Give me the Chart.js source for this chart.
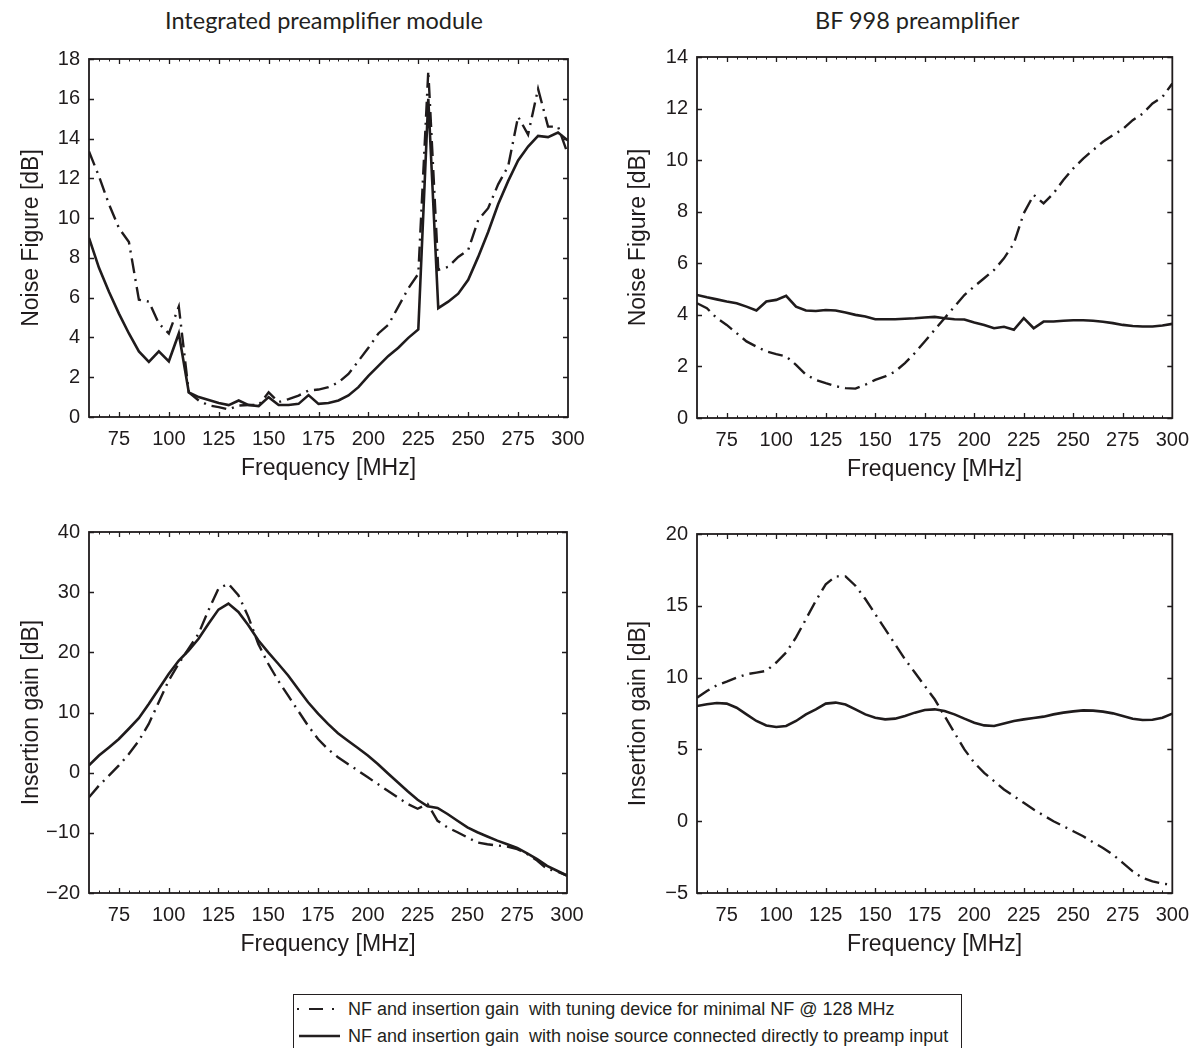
<!DOCTYPE html>
<html><head><meta charset="utf-8">
<script src="https://cdn.jsdelivr.net/npm/chart.js@4.4.1/dist/chart.umd.min.js"></script>
<style>
html,body{margin:0;padding:0;background:#fff;}
body{width:1199px;height:1048px;position:relative;overflow:hidden;font-family:"Liberation Sans",Arial,sans-serif;color:#231f20;}
.wrap{position:absolute;}
.ttl{position:absolute;font-family:Lato,"Open Sans",sans-serif;font-size:23.5px;line-height:23.5px;white-space:nowrap;color:#231f20;}
#legend{position:absolute;left:293px;top:994px;width:669px;height:64px;border:1.5px solid #231f20;box-sizing:border-box;background:#fff;}
.row{position:absolute;left:0;height:22px;font-size:18px;line-height:22px;white-space:pre;}
.row svg{position:absolute;left:0;top:1px;}
.row span{position:absolute;left:54px;top:0;}
</style></head>
<body>
<div class="ttl" style="left:165px;top:9px">Integrated preamplifier module</div>
<div class="ttl" style="left:815px;top:9px">BF 998 preamplifier</div>
<div class="wrap" style="left:0;top:0;width:600px;height:487px"><canvas id="c1" width="600" height="487"></canvas></div>
<div class="wrap" style="left:600px;top:0;width:599px;height:488px"><canvas id="c2" width="599" height="488"></canvas></div>
<div class="wrap" style="left:0;top:480px;width:600px;height:483px"><canvas id="c3" width="600" height="483"></canvas></div>
<div class="wrap" style="left:600px;top:480px;width:599px;height:483px"><canvas id="c4" width="599" height="483"></canvas></div>
<div id="legend">
  <div class="row" style="top:3px"><svg width="52" height="20"><line x1="3" y1="10" x2="49" y2="10" stroke="#231f20" stroke-width="2.2" stroke-dasharray="2,10,14,9,2,20"/></svg><span>NF and insertion gain  with tuning device for minimal NF @ 128 MHz</span></div>
  <div class="row" style="top:30px"><svg width="52" height="20"><line x1="5" y1="10" x2="46" y2="10" stroke="#231f20" stroke-width="2.4"/></svg><span>NF and insertion gain  with noise source connected directly to preamp input</span></div>
</div>
<script>
// ---- data ----
const FREQ = [60,65,70,75,80,85,90,95,100,105,110,115,120,125,130,135,140,145,150,155,160,165,170,175,180,185,190,195,200,205,210,215,220,225,230,235,240,245,250,255,260,265,270,275,280,285,290,295,300];
const X_TICKS = [75,100,125,150,175,200,225,250,275,300];

// Integrated preamplifier module - noise figure [dB]
const NF_INT_TUNED  = [13.35,12.1,10.7,9.5,8.8,5.9,5.8,4.7,4.2,5.55,1.24,0.83,0.58,0.5,0.38,0.58,0.6,0.6,1.24,0.75,0.9,1.08,1.33,1.38,1.5,1.74,2.16,2.82,3.48,4.2,4.64,5.55,6.47,7.2,17.4,7.4,7.55,8.05,8.4,9.9,10.5,11.7,12.6,15.1,14.2,16.5,14.6,14.6,13.2];
const NF_INT_DIRECT = [9.0,7.5,6.3,5.2,4.2,3.3,2.77,3.3,2.8,4.2,1.24,1.0,0.85,0.7,0.6,0.83,0.6,0.55,1.0,0.6,0.6,0.66,1.1,0.66,0.7,0.83,1.08,1.5,2.07,2.57,3.07,3.48,3.98,4.4,16.0,5.47,5.8,6.2,6.9,8.05,9.3,10.7,11.86,12.9,13.6,14.13,14.07,14.3,13.9];
// BF 998 preamplifier - noise figure [dB]
const NF_BF_TUNED  = [4.45,4.26,3.87,3.61,3.29,2.97,2.77,2.58,2.48,2.39,2.06,1.68,1.48,1.35,1.23,1.16,1.14,1.29,1.48,1.61,1.8,2.13,2.52,2.97,3.42,3.87,4.32,4.77,5.1,5.42,5.74,6.19,6.77,7.94,8.65,8.32,8.71,9.23,9.68,10.06,10.39,10.71,10.97,11.2,11.55,11.8,12.2,12.45,12.97];
const NF_BF_DIRECT = [4.77,4.68,4.6,4.52,4.45,4.32,4.17,4.52,4.58,4.74,4.32,4.17,4.15,4.19,4.17,4.09,4.0,3.94,3.83,3.83,3.83,3.85,3.87,3.9,3.92,3.87,3.83,3.82,3.7,3.61,3.48,3.54,3.42,3.87,3.48,3.74,3.74,3.77,3.79,3.79,3.77,3.73,3.68,3.61,3.57,3.55,3.55,3.59,3.65];
// Integrated preamplifier module - insertion gain [dB]
const IG_INT_TUNED  = [-4.1,-2.15,-0.5,1.2,3.1,5.3,8.1,11.7,15.3,18.1,20.6,23.1,27.0,30.6,31.4,29.5,25.9,21.4,18.1,15.3,12.8,10.3,7.8,5.6,3.9,2.56,1.45,0.35,-0.77,-1.9,-3.0,-4.1,-5.2,-6.0,-5.2,-8.0,-9.1,-9.9,-10.75,-11.6,-11.9,-12.1,-12.3,-12.7,-13.5,-14.6,-16.0,-16.4,-17.1];
const IG_INT_DIRECT = [1.2,2.84,4.2,5.6,7.3,9.05,11.4,13.9,16.4,18.6,20.3,22.25,24.75,27.1,28.1,26.7,24.5,22.0,20.0,18.1,16.15,13.9,11.7,9.8,8.1,6.55,5.3,4.1,2.84,1.45,-0.1,-1.6,-3.1,-4.5,-5.6,-5.87,-6.87,-8.0,-9.1,-9.9,-10.6,-11.3,-11.9,-12.5,-13.4,-14.35,-15.5,-16.3,-17.1];
// BF 998 preamplifier - insertion gain [dB]
const IG_BF_TUNED  = [8.6,9.07,9.47,9.72,10.0,10.23,10.35,10.47,11.05,11.74,12.8,14.07,15.35,16.5,17.05,17.05,16.4,15.47,14.42,13.37,12.33,11.28,10.35,9.42,8.49,7.33,6.16,5.0,4.07,3.37,2.79,2.21,1.74,1.28,0.81,0.4,0.0,-0.35,-0.7,-1.05,-1.47,-1.86,-2.33,-2.9,-3.49,-3.95,-4.19,-4.35,-4.42];
const IG_BF_DIRECT = [8.02,8.14,8.23,8.19,7.9,7.44,6.98,6.67,6.56,6.63,6.98,7.44,7.79,8.19,8.26,8.12,7.79,7.44,7.21,7.09,7.14,7.33,7.56,7.74,7.79,7.67,7.44,7.14,6.86,6.67,6.63,6.81,6.98,7.09,7.19,7.28,7.44,7.56,7.65,7.72,7.7,7.63,7.51,7.33,7.14,7.05,7.07,7.21,7.49];

const Y_TICKS_NF_INT = [0,2,4,6,8,10,12,14,16,18];
const Y_TICKS_NF_BF  = [0,2,4,6,8,10,12,14];
const Y_TICKS_IG_INT = [-20,-10,0,10,20,30,40];
const Y_TICKS_IG_BF  = [-5,0,5,10,15,20];

// ---- drawing ----
const INK = '#1f1b1c';
const framePlugin = {
  id: 'frame',
  afterDatasetsDraw(chart) {
    const {ctx, chartArea: a, scales: {x, y}} = chart;
    ctx.save();
    ctx.strokeStyle = INK;
    for (let f = 65; f < 300; f += 5) {
      const px = Math.round(x.getPixelForValue(f)) + 0.5;
      const major = X_TICKS.includes(f);
      const len = major ? 5 : 2.5;
      ctx.lineWidth = major ? 1.3 : 1;
      ctx.beginPath();
      ctx.moveTo(px, a.bottom); ctx.lineTo(px, a.bottom - len);
      ctx.moveTo(px, a.top); ctx.lineTo(px, a.top + len);
      ctx.stroke();
    }
    ctx.lineWidth = 1.3;
    for (const t of y.ticks) {
      const py = Math.round(y.getPixelForValue(t.value)) + 0.5;
      ctx.beginPath();
      ctx.moveTo(a.left, py); ctx.lineTo(a.left + 5, py);
      ctx.moveTo(a.right, py); ctx.lineTo(a.right - 5, py);
      ctx.stroke();
    }
    ctx.lineWidth = 1.8;
    ctx.strokeRect(a.left, a.top, a.right - a.left, a.bottom - a.top);
    ctx.restore();
  }
};

function makeChart(id, tuned, direct, yMin, yMax, yTicks, yTitle, pad, yWidth, yTitlePad) {
  const pts = arr => FREQ.map((f, i) => ({x: f, y: arr[i]}));
  return new Chart(document.getElementById(id), {
    type: 'line',
    data: {datasets: [
      {data: pts(tuned), borderColor: INK, borderWidth: 2.4, borderDash: [15, 6, 2, 6], pointRadius: 0, tension: 0, fill: false},
      {data: pts(direct), borderColor: INK, borderWidth: 2.6, pointRadius: 0, tension: 0, fill: false}
    ]},
    options: {
      responsive: false, animation: false, devicePixelRatio: 1,
      layout: {padding: pad},
      plugins: {legend: {display: false}, tooltip: {enabled: false}},
      scales: {
        x: {
          type: 'linear', min: 60, max: 300,
          afterBuildTicks: s => { s.ticks = X_TICKS.map(v => ({value: v})); },
          afterFit: s => { s.height = 70; },
          grid: {display: false, drawTicks: false}, border: {display: false},
          ticks: {color: INK, font: {family: 'Liberation Sans', size: 20}, padding: 10, maxRotation: 0, autoSkip: false},
          title: {display: true, text: 'Frequency [MHz]', color: INK, font: {family: 'Liberation Sans', size: 23}, padding: {top: 0, bottom: 5}}
        },
        y: {
          type: 'linear', min: yMin, max: yMax,
          afterBuildTicks: s => { s.ticks = yTicks.map(v => ({value: v})); },
          afterFit: s => { s.width = yWidth; },
          grid: {display: false, drawTicks: false}, border: {display: false},
          ticks: {color: INK, font: {family: 'Liberation Sans', size: 20}, padding: 9, autoSkip: false,
                  callback: v => String(v).replace('-', '\u2212')},
          title: {display: true, text: yTitle, color: INK, font: {family: 'Liberation Sans', size: 23}, padding: {top: yTitlePad, bottom: 0}}
        }
      }
    },
    plugins: [framePlugin]
  });
}

makeChart('c1', NF_INT_TUNED, NF_INT_DIRECT, 0, 18, Y_TICKS_NF_INT, 'Noise Figure [dB]', {top: 59, right: 32, left: 0, bottom: 0}, 89, 18);
makeChart('c2', NF_BF_TUNED, NF_BF_DIRECT, 0, 14, Y_TICKS_NF_BF, 'Noise Figure [dB]', {top: 57, right: 24, left: 0, bottom: 0}, 97, 25);
makeChart('c3', IG_INT_TUNED, IG_INT_DIRECT, -20, 40, Y_TICKS_IG_INT, 'Insertion gain [dB]', {top: 52, right: 33, left: 0, bottom: 0}, 89, 18);
makeChart('c4', IG_BF_TUNED, IG_BF_DIRECT, -5, 20, Y_TICKS_IG_BF, 'Insertion gain [dB]', {top: 54, right: 24, left: 0, bottom: 0}, 97, 25);
</script>
</body></html>
